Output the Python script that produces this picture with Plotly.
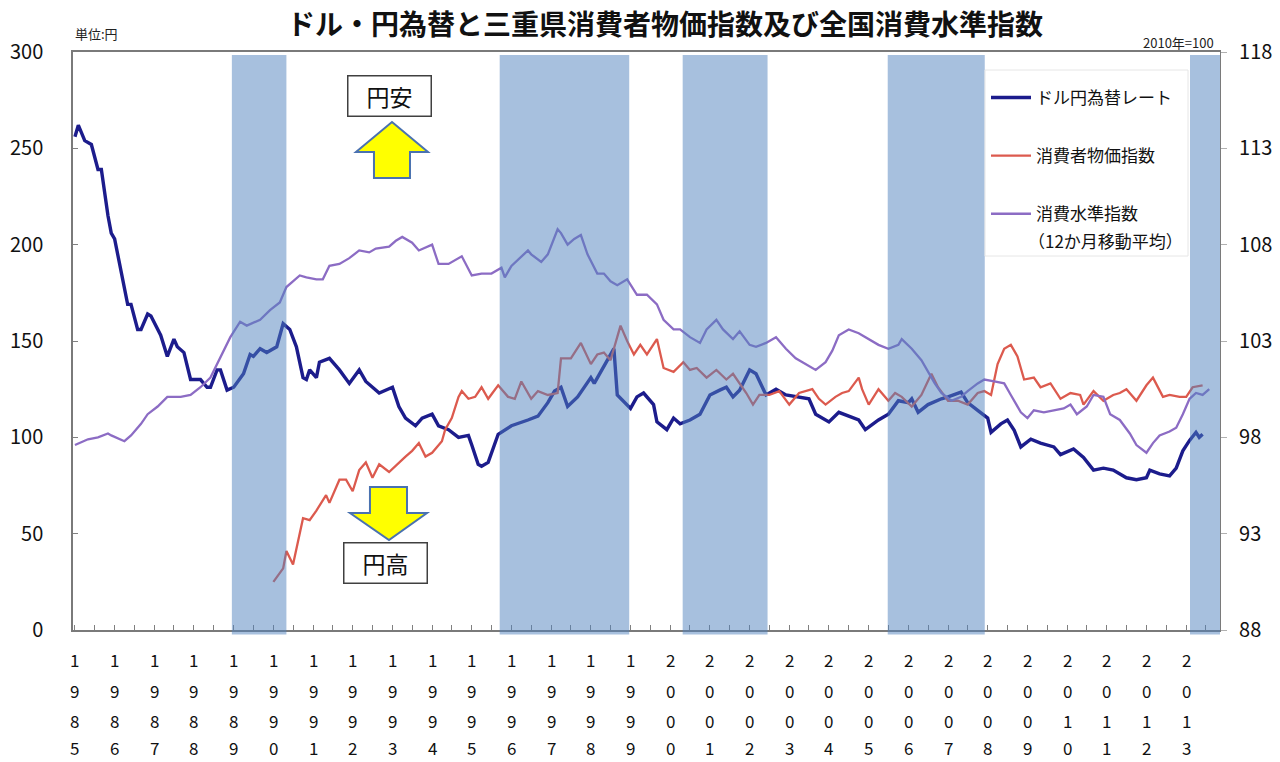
import plotly.graph_objects as go

# ---------------- data ----------------
fx_dates = ["1985-01","1985-02","1985-04","1985-06","1985-08","1985-09","1985-11","1985-12",
    "1986-01","1986-03","1986-05","1986-06","1986-08","1986-09","1986-11","1986-12",
    "1987-02","1987-03","1987-05","1987-07","1987-08","1987-10","1987-12",
    "1988-03","1988-05","1988-06","1988-08","1988-09","1988-11",
    "1989-01","1989-04","1989-06","1989-07","1989-09","1989-11",
    "1990-02","1990-04","1990-06","1990-08","1990-10","1990-11","1990-12",
    "1991-02","1991-03","1991-06","1991-09","1991-12",
    "1992-03","1992-05","1992-09",
    "1993-01","1993-03","1993-05","1993-08","1993-10",
    "1994-01","1994-03","1994-06","1994-09","1994-12",
    "1995-01","1995-03","1995-04","1995-06","1995-09",
    "1996-01","1996-06","1996-09","1996-12",
    "1997-02","1997-04","1997-06","1997-09",
    "1998-01","1998-02","1998-06","1998-08","1998-09",
    "1999-01","1999-03","1999-05","1999-08","1999-09","1999-12",
    "2000-02","2000-04","2000-07","2000-10",
    "2001-01","2001-04","2001-06","2001-08","2001-10",
    "2002-01","2002-03","2002-06","2002-09","2002-12",
    "2003-04","2003-07","2003-09","2003-11",
    "2004-01","2004-04","2004-07","2004-10","2004-12",
    "2005-04","2005-07","2005-10",
    "2006-01","2006-02","2006-04","2006-07","2006-11",
    "2007-01","2007-05","2007-07","2007-10",
    "2008-01","2008-02","2008-05","2008-07","2008-09","2008-11",
    "2009-02","2009-05","2009-09","2009-11",
    "2010-03","2010-06","2010-09","2010-12",
    "2011-03","2011-07","2011-10",
    "2012-01","2012-02","2012-05","2012-08","2012-10","2012-12",
    "2013-02","2013-04","2013-05","2013-06"]
fx_rate = [256,262,254,252,239,239,215,206,
    203,187,169,169,156,156,164,163,
    156,153,142,151,147,144,130,
    130,126,126,135,135,124.5,
    126,133,143,142,146,144,
    147,159,156,147,131,130,135,
    131,139,141,135,128,
    135,129,123,
    126,116,110,106,110,
    112,106,104,100,101,
    96,86,85,87,101.6,
    106,109,111,118,
    124,126,116,121,
    131,128,140,146,122,
    115,121,123,117,108,104,
    110,107,109,112,
    122,124.5,126,121,124.5,
    135,133,122,125,122,
    121,120,112,110,
    108,113,111,109,104,
    109,112,119,
    118,120,113,117,120,
    121,123.5,118,114,
    110,102.6,107,109,103.6,95,
    99,97,95,91,
    94,89.6,83,84,
    83,79,78,
    79,83,81,80,84,93,
    98.4,102.6,100,101.6]

cpi_dates = ["1990-01","1990-04","1990-05","1990-07","1990-10","1990-12",
    "1991-02","1991-05","1991-06","1991-09","1991-11",
    "1992-01","1992-03","1992-05","1992-07","1992-09","1992-12",
    "1993-03","1993-05","1993-07","1993-09","1993-11",
    "1994-01","1994-04","1994-05","1994-07","1994-09","1994-10","1994-12",
    "1995-02","1995-04","1995-06","1995-09","1995-12",
    "1996-02","1996-04","1996-07","1996-09","1996-12",
    "1997-03","1997-04","1997-07","1997-10",
    "1998-01","1998-03","1998-05","1998-07","1998-10","1998-12",
    "1999-02","1999-04","1999-06","1999-09","1999-11",
    "2000-02","2000-05","2000-07","2000-09","2000-12",
    "2001-03","2001-06","2001-08","2001-10","2001-12",
    "2002-02","2002-04","2002-07","2002-10",
    "2003-01","2003-04","2003-08","2003-10","2003-12",
    "2004-03","2004-05","2004-07","2004-10","2004-11",
    "2005-01","2005-04","2005-07","2005-09","2005-11",
    "2006-02","2006-05","2006-08","2006-10",
    "2007-01","2007-04","2007-07","2007-10","2007-12",
    "2008-02","2008-04","2008-06","2008-08","2008-10","2008-12",
    "2009-03","2009-05","2009-08","2009-11",
    "2010-02","2010-05","2010-06","2010-09","2010-12",
    "2011-03","2011-05","2011-07","2011-10",
    "2012-01","2012-03","2012-06","2012-08","2012-11",
    "2013-01","2013-03","2013-06"]
cpi_index = [90.5,91.2,92.1,91.4,93.8,93.7,
    94.2,95.0,94.6,95.8,95.8,
    95.2,96.3,96.7,95.9,96.6,96.2,
    96.7,97.0,97.3,97.7,97.0,
    97.2,97.8,98.4,99.0,100.1,100.4,100.0,
    100.1,100.6,100.0,100.7,100.1,
    100.0,100.9,100.0,100.4,100.2,
    100.3,102.1,102.1,102.9,
    101.8,102.3,102.4,102.0,103.8,103.0,
    102.3,102.8,102.3,103.1,101.6,
    101.4,101.9,101.5,101.6,101.1,
    101.5,101.0,101.3,100.8,100.3,
    99.7,100.2,100.2,100.4,
    99.7,100.3,100.5,100.0,99.7,
    100.1,100.3,100.4,101.1,100.5,
    99.7,100.5,99.9,100.3,100.1,
    99.6,100.2,101.3,100.6,
    99.9,99.9,99.7,100.3,100.4,
    100.2,101.8,102.6,102.8,102.2,101.0,
    101.1,100.6,100.8,100.0,
    100.3,100.2,99.7,100.4,99.9,
    100.2,100.3,100.5,99.9,
    100.7,101.1,100.1,100.2,100.1,
    100.1,100.6,100.7]

cons_dates = ["1985-01","1985-05","1985-08","1985-11","1985-12",
    "1986-04","1986-06","1986-09","1986-11",
    "1987-02","1987-05","1987-09","1987-12",
    "1988-03","1988-06","1988-09","1988-12",
    "1989-03","1989-05","1989-09","1989-12",
    "1990-03","1990-05","1990-09","1990-11",
    "1991-02","1991-04","1991-06","1991-09","1991-12",
    "1992-03","1992-06","1992-08","1992-12",
    "1993-02","1993-04","1993-07","1993-09",
    "1994-01","1994-03","1994-06","1994-10",
    "1995-01","1995-04","1995-07","1995-10","1995-11",
    "1996-01","1996-06","1996-07","1996-10","1996-12",
    "1997-03","1997-04","1997-06","1997-08","1997-10","1997-12",
    "1998-03","1998-05","1998-07","1998-09","1998-12",
    "1999-03","1999-06","1999-09","1999-11",
    "2000-02","2000-04","2000-07","2000-10","2000-12",
    "2001-03","2001-05","2001-08","2001-10",
    "2002-01","2002-03","2002-06","2002-09","2002-12",
    "2003-03","2003-06","2003-09","2003-12",
    "2004-02","2004-04","2004-07","2004-10",
    "2005-01","2005-04","2005-07","2005-10","2005-11",
    "2006-02","2006-05","2006-07","2006-09","2006-11",
    "2007-02","2007-05","2007-07","2007-10","2007-12",
    "2008-03","2008-06","2008-08","2008-11",
    "2009-01","2009-03","2009-06","2009-09","2009-12",
    "2010-02","2010-04","2010-07","2010-09","2010-12",
    "2011-02","2011-05","2011-08","2011-10",
    "2012-01","2012-03","2012-05","2012-08","2012-10","2012-12",
    "2013-02","2013-04","2013-06","2013-08"]
cons_index = [97.6,97.9,98.0,98.2,98.1,
    97.8,98.1,98.7,99.2,
    99.6,100.1,100.1,100.2,
    100.6,101.1,102.2,103.2,
    104.0,103.8,104.1,104.6,
    105.0,105.8,106.4,106.3,
    106.2,106.2,106.9,107.0,107.3,
    107.7,107.6,107.8,107.9,
    108.2,108.4,108.1,107.7,
    108.0,107.0,107.0,107.4,
    106.4,106.5,106.5,106.8,106.3,
    106.9,107.7,107.5,107.1,107.5,
    108.8,108.6,108.0,108.3,108.5,107.5,
    106.5,106.5,106.1,105.9,106.2,
    105.4,105.4,104.9,104.1,
    103.6,103.6,103.2,102.9,103.6,
    104.1,103.6,103.1,103.5,
    102.8,102.7,102.9,103.2,102.6,
    102.1,101.8,101.5,101.9,
    102.5,103.3,103.6,103.4,
    103.1,102.8,102.6,102.8,103.1,
    102.6,102.0,101.4,100.8,100.3,
    99.9,100.1,100.4,100.8,101.0,
    100.9,100.8,100.2,99.3,
    99.0,99.4,99.3,99.4,99.5,
    99.7,99.2,99.6,100.2,100.1,
    99.2,98.9,98.2,97.6,
    97.2,97.7,98.1,98.3,98.5,99.2,
    100.0,100.3,100.2,100.5]

band_start = ["1988-12-15", "1995-09-15", "2000-04-25", "2005-06-25", "2013-02-05"]
band_end = ["1990-05-01", "1998-12-20", "2002-06-15", "2007-12-05", "2013-11-08"]

year_labels = list(range(1985, 2014))
left_ticks = [0, 50, 100, 150, 200, 250, 300]
right_ticks = [88, 93, 98, 103, 108, 113, 118]

series_names = ["ドル円為替レート", "消費者物価指数", "消費水準指数"]
series_note = "（12か月移動平均）"
title_text = "ドル・円為替と三重県消費者物価指数及び全国消費水準指数"

# ---------------- figure ----------------
FONT = "Noto Sans CJK JP, Noto Sans, sans-serif"
W, H = 1280, 762
L, R, T, B = 73, 60, 52, 132
PW, PH = W - L - R, H - T - B

def px(x, y):
    return (x - L) / PW, (H - B - y) / PH

fig = go.Figure()
fig.add_trace(go.Scatter(x=fx_dates, y=fx_rate, mode="lines", name=series_names[0],
                         line=dict(color="#1c1c8c", width=3.4), yaxis="y", legendgroup="a"))
fig.add_trace(go.Scatter(x=cpi_dates, y=cpi_index, mode="lines", name=series_names[1],
                         line=dict(color="#dc5a4e", width=2.3), yaxis="y2", legendgroup="b"))
fig.add_trace(go.Scatter(x=cons_dates, y=cons_index, mode="lines", name=series_names[2],
                         line=dict(color="#8c6cc4", width=2.3), yaxis="y2", legendgroup="c"))

shapes = []
for s, e in zip(band_start, band_end):
    shapes.append(dict(type="rect", xref="x", yref="paper", x0=s, x1=e, y0=-0.008, y1=0.995,
                       fillcolor="#4f81bd", opacity=0.5, line=dict(width=0), layer="above"))

# white legend panel (legend + its second caption line)
lx0, ly0 = px(985, 70)
lx1, ly1 = px(1188, 256)
shapes.append(dict(type="rect", xref="paper", yref="paper", x0=lx0, x1=lx1, y0=ly1, y1=ly0,
                   fillcolor="white", line=dict(color="#e6e6e6", width=1), layer="above"))

def poly(pts):
    p = [px(x, y) for x, y in pts]
    return "M " + " L ".join(f"{a:.4f},{b:.4f}" for a, b in p) + " Z"

up_arrow = [(392, 122), (428, 152), (410, 152), (410, 178), (374, 178), (374, 152), (356, 152)]
down_arrow = [(370, 487), (407, 487), (407, 513), (427, 513), (389, 540), (350, 513), (370, 513)]
for pts in (up_arrow, down_arrow):
    shapes.append(dict(type="path", xref="paper", yref="paper", path=poly(pts),
                       fillcolor="#ffff00", line=dict(color="#4a72b0", width=2), layer="above"))

annotations = []
for (cx, cy, txt) in [(389.5, 96, "円安"), (385.5, 563, "円高")]:
    ax_, ay_ = px(cx, cy)
    annotations.append(dict(xref="paper", yref="paper", x=ax_, y=ay_, text=txt, showarrow=False,
                            xanchor="center", yanchor="middle", width=80, height=37,
                            bgcolor="white", bordercolor="#404040", borderwidth=1.5, borderpad=1,
                            font=dict(family=FONT, size=23, color="#111")))

# vertical-digit year labels under the axis
row_shift = [-29, -60, -90, -117]
for yr in year_labels:
    for i, ch in enumerate(str(yr)):
        annotations.append(dict(xref="x", yref="paper", x=f"{yr}-01-01", y=0, yshift=row_shift[i],
                                text=ch, showarrow=False, xanchor="center", yanchor="middle",
                                font=dict(family=FONT, size=17, color="#111")))

annotations.append(dict(xref="paper", yref="paper", x=0.0, y=1, yshift=19, text="単位:円",
                        showarrow=False, xanchor="left", yanchor="middle",
                        font=dict(family=FONT, size=13, color="#222")))
annotations.append(dict(xref="paper", yref="paper", x=px(1216, 0)[0], y=1, yshift=10,
                        text="2010年=100", showarrow=False, xanchor="right", yanchor="middle",
                        font=dict(family=FONT, size=13, color="#222")))
nx, ny = px(1026, 240)
annotations.append(dict(xref="paper", yref="paper", x=nx, y=ny, text=series_note,
                        showarrow=False, xanchor="left", yanchor="middle",
                        font=dict(family=FONT, size=17, color="#111")))

lx, ly = px(986, 80)
fig.update_layout(
    width=W, height=H,
    margin=dict(l=L, r=R, t=T, b=B, autoexpand=False),
    paper_bgcolor="white", plot_bgcolor="white",
    title=dict(text=title_text, x=665 / W, xanchor="center", y=1 - 25 / H, yanchor="middle",
               font=dict(family=FONT, size=28, color="#111", weight="bold")),
    font=dict(family=FONT, size=18, color="#111"),
    showlegend=True,
    legend=dict(x=lx, y=ly, xanchor="left", yanchor="top", bgcolor="rgba(0,0,0,0)",
                borderwidth=0, tracegroupgap=33, itemwidth=40,
                font=dict(family=FONT, size=17, color="#111")),
    xaxis=dict(type="date", range=["1984-12-14", "2013-11-08"], tickmode="linear",
               tick0="1985-01-01", dtick="M6", ticks="inside", ticklen=5, tickcolor="#808080",
               showticklabels=False, showgrid=False, zeroline=False,
               showline=True, linecolor="#7a7a7a", linewidth=1.5, mirror=True),
    yaxis=dict(range=[0, 300], tickmode="array", tickvals=left_ticks, ticks="inside", ticklen=5,
               tickcolor="#808080", showgrid=False, zeroline=False, showline=True,
               linecolor="#7a7a7a", linewidth=1.5, ticklabelstandoff=24,
               tickfont=dict(family=FONT, size=20, color="#111")),
    yaxis2=dict(range=[88, 118], tickmode="array", tickvals=right_ticks, overlaying="y", side="right",
                ticks="outside", ticklen=6, tickcolor="#b0b0b0", showgrid=False, zeroline=False,
                showline=True, linecolor="#7a7a7a", linewidth=1.2, ticklabelstandoff=8,
                tickfont=dict(family=FONT, size=20, color="#111")),
    shapes=shapes,
    annotations=annotations,
)

fig.write_html("out.html")
